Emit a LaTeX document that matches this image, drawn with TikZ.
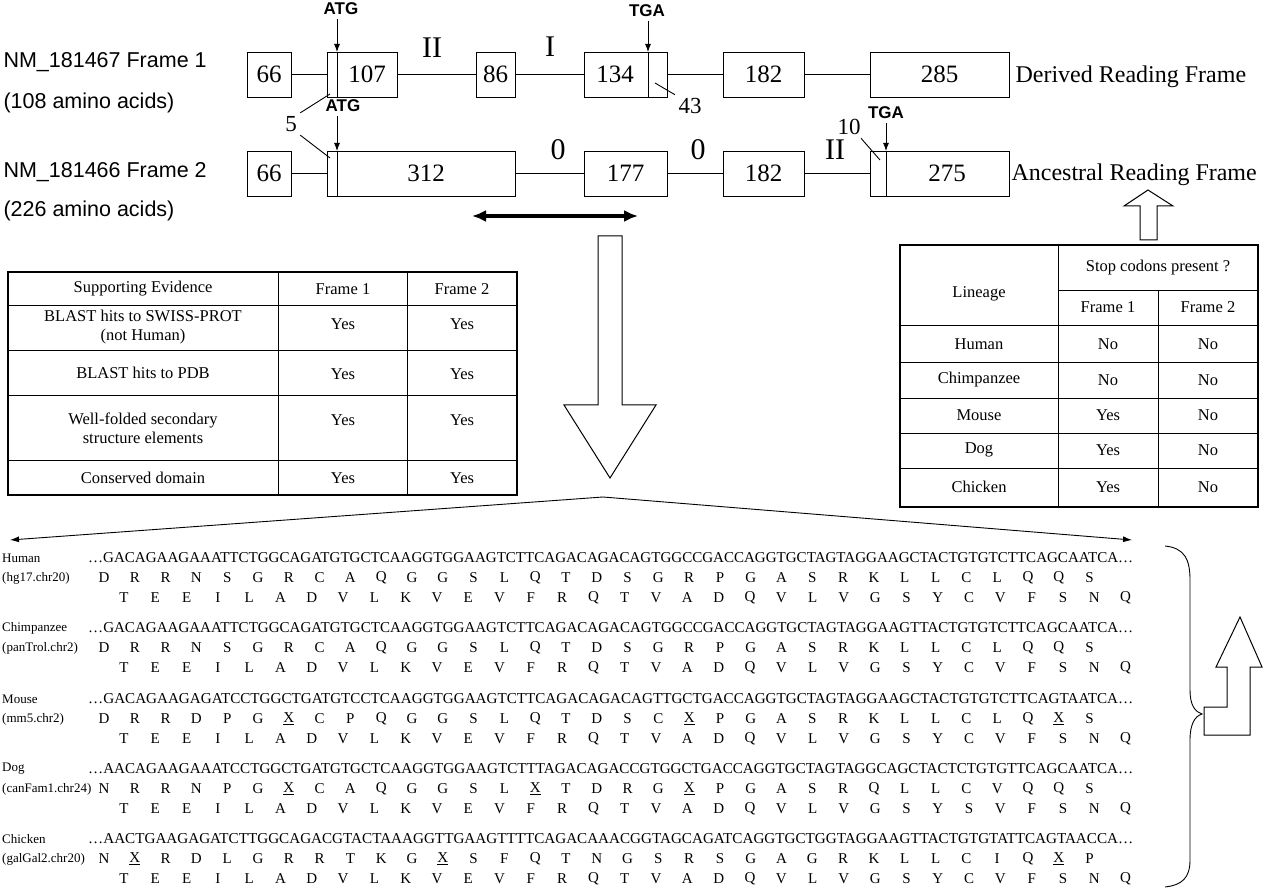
\documentclass[tikz,border=0pt]{standalone}
\usepackage{fontspec}
\setmainfont{Liberation Serif}
\newfontfamily\lsans{Liberation Sans}
\usetikzlibrary{arrows.meta}
\begin{document}
\begin{tikzpicture}[x=1pt,y=-1pt,
  ex/.style={draw,line width=0.9pt,inner sep=0pt,font=\fontsize{25}{25}\selectfont},
  ln/.style={line width=0.9pt},
  codon/.style={font=\bfseries\lsans\fontsize{17}{17}\selectfont},
  rom/.style={font=\fontsize{30}{30}\selectfont},
  sm/.style={font=\fontsize{23}{23}\selectfont},
  lab/.style={font=\lsans\fontsize{21.5}{21.5}\selectfont,anchor=west},
  tt/.style={font=\fontsize{16.5}{19}\selectfont,align=center},
  seq/.style={anchor=west,inner sep=0pt,font=\fontsize{15}{15}\selectfont},
  aa/.style={inner sep=0pt,font=\fontsize{15}{15}\selectfont},
  spl/.style={anchor=west,font=\fontsize{13}{13}\selectfont,inner sep=0pt},
  hollow/.style={draw,line width=1pt,fill=white},
  thk/.style={line width=2.4pt}]
\useasboundingbox (0,0) rectangle (1280,890);
% ---------- gene structures ----------
\node[lab] (l1) at (0,62) {NM\_181467 Frame 1};
\node[lab] (l1b) at (0,103) {(108 amino acids)};
\node[lab] (l2) at (0,172) {NM\_181466 Frame 2};
\node[lab] (l2b) at (0,211) {(226 amino acids)};
% row 1
\node[ex,minimum width=44pt,minimum height=45pt] (a66) at (269,74.5) {66};
\node[ex,minimum width=70pt,minimum height=45pt] (a107) at (362,74.5) {};
\node[font=\fontsize{25}{25}\selectfont] at (367,74.5) {107};
\draw[ln] (337,52) -- (337,97);
\node[ex,minimum width=39pt,minimum height=45pt] (a86) at (495.5,74.5) {86};
\node[ex,minimum width=83pt,minimum height=45pt] (a134) at (625.5,74.5) {};
\node[font=\fontsize{25}{25}\selectfont] at (615,74.5) {134};
\draw[ln] (648,52) -- (648,97);
\node[ex,minimum width=81pt,minimum height=45pt] (a182) at (763.5,74.5) {182};
\node[ex,minimum width=139pt,minimum height=45pt] (a285) at (939.5,74.5) {285};
\draw[ln] (a66) -- (a107); \draw[ln] (a107) -- (a86); \draw[ln] (a86) -- (a134);
\draw[ln] (a134) -- (a182); \draw[ln] (a182) -- (a285);
\node[font=\fontsize{24}{24}\selectfont,anchor=west] (d) at (1012,77) {Derived Reading Frame};
\node[rom] at (432,48) {II};
\node[rom] at (550,47) {I};
\node[codon] (atg1) at (341,9) {ATG};
\draw[ln,-{Latex[length=8pt,width=6pt]}] (atg1.south -| 337,0) -- (337,52);
\node[codon] (tga1) at (647,11) {TGA};
\draw[ln,-{Latex[length=8pt,width=6pt]}] (tga1.south -| 648,0) -- (648,52);
\node[sm] (n43) at (690,106) {43};
\draw[ln] (655,83) -- (n43.north west);
% row 2
\node[ex,minimum width=44pt,minimum height=45pt] (b66) at (269,173.5) {66};
\node[ex,minimum width=188pt,minimum height=45pt] (b312) at (421,173.5) {};
\node[font=\fontsize{25}{25}\selectfont] at (426,173.5) {312};
\draw[ln] (337,151) -- (337,196);
\node[ex,minimum width=83pt,minimum height=45pt] (b177) at (625.5,173.5) {177};
\node[ex,minimum width=81pt,minimum height=45pt] (b182) at (763.5,173.5) {182};
\node[ex,minimum width=139pt,minimum height=45pt] (b275) at (939.5,173.5) {};
\node[font=\fontsize{25}{25}\selectfont] at (947,173.5) {275};
\draw[ln] (886,151) -- (886,196);
\draw[ln] (b66) -- (b312); \draw[ln] (b312) -- (b177); \draw[ln] (b177) -- (b182); \draw[ln] (b182) -- (b275);
\node[font=\fontsize{24}{24}\selectfont,anchor=west] (an) at (1008,175) {Ancestral Reading Frame};
\node[rom] at (558,150) {0};
\node[rom] at (698,150) {0};
\node[rom] at (835,150) {II};
\node[codon] (atg2) at (343,106) {ATG};
\draw[ln,-{Latex[length=8pt,width=6pt]}] (atg2.south -| 337,0) -- (337,151);
\node[codon] (tga2) at (886,113) {TGA};
\draw[ln,-{Latex[length=8pt,width=6pt]}] (tga2.south -| 886,0) -- (886,151);
\node[sm] (n5) at (291,124) {5};
\draw[ln] (n5.north east) -- (330,94);
\draw[ln] (n5.south east) -- (330,158);
\node[sm] (n10) at (849,127) {10};
\draw[ln] (n10.south east) ++(-3,0) -- (880,160);
% double arrow
\coordinate (da1) at (472,216); \coordinate (da2) at (638,216);
\draw[line width=3.5pt,{Latex[length=14pt,width=12pt]}-{Latex[length=14pt,width=12pt]}] (da1) -- (da2);
% hollow down arrow
\draw[hollow] (598,236) -- (622,236) -- (622,405) -- (656,405) -- (610,478) -- (564,405) -- (598,405) -- cycle;
% hollow up arrow
\draw[hollow] (1140,240) -- (1140,206) -- (1124,206) -- (1148,190) -- (1173,206) -- (1157,206) -- (1157,240) -- cycle;
% fan arrows
\coordinate (fan) at (603,497);
\coordinate (fl) at (10,540); \coordinate (fr) at (1132,540);
\draw[ln,-{Latex[length=9pt,width=6pt]}] (fan) -- (fl);
\draw[ln,-{Latex[length=9pt,width=6pt]}] (fan) -- (fr);
% ---------- left table ----------
\draw[ln] (278,272) -- (278,495); \draw[ln] (407,272) -- (407,495);
\foreach \yy in {305,350,395,460} \draw[ln] (8,\yy) -- (517,\yy);
\draw[thk] (8,272) rectangle (517,495);
\node[tt] at (143,289) {Supporting Evidence};
\node[tt] at (343,289) {Frame 1};
\node[tt] at (462,289) {Frame 2};
\node[tt] at (143,327) {BLAST hits to SWISS-PROT\\(not Human)};
\node[tt] at (343,324) {Yes}; \node[tt] at (462,324) {Yes};
\node[tt] at (143,373) {BLAST hits to PDB};
\node[tt] at (343,374) {Yes}; \node[tt] at (462,374) {Yes};
\node[tt] at (143,428) {Well-folded secondary\\structure elements};
\node[tt] at (343,420) {Yes}; \node[tt] at (462,420) {Yes};
\node[tt] at (143,478) {Conserved domain};
\node[tt] at (343,478) {Yes}; \node[tt] at (462,478) {Yes};
% ---------- right table ----------
\draw[ln] (1058,245) -- (1058,507);
\draw[ln] (1058,290) -- (1258,290);
\draw[ln] (1158,290) -- (1158,507);
\foreach \yy in {325,362,398,433,468} \draw[ln] (900,\yy) -- (1258,\yy);
\draw[thk] (900,245) rectangle (1258,507);
\node[tt] at (979,294) {Lineage};
\node[tt] at (1158,268) {Stop codons present ?};
\node[tt] at (1108,307) {Frame 1}; \node[tt] at (1208,307) {Frame 2};
\foreach \nm/\fa/\yy in {Human/No/344,Chimpanzee/No/380,Mouse/Yes/415,Dog/Yes/450,Chicken/Yes/487}{
  \node[tt] at (979,\yy) {\nm};
  \node[tt] at (1108,\yy) {\fa};
  \node[tt] at (1208,\yy) {No};
}
% ---------- sequences ----------
\newcommand{\seqrow}[6]{%
  \node[spl] at (2,#1) {#2};
  \node[spl] at (2,#1+20) {#3};
  \node[seq] at (88,#1) {\resizebox{1045pt}{!}{#4}};
  \foreach \a [count=\i from 0] in {#5} \node[aa] at (104+30.8*\i,#1+20) {\a};
  \foreach \a [count=\i from 0] in {#6} \node[aa] at (124+31.3*\i,#1+40) {\a};
}
\seqrow{558}{Human}{(hg17.chr20)}{…GACAGAAGAAATTCTGGCAGATGTGCTCAAGGTGGAAGTCTTCAGACAGACAGTGGCCGACCAGGTGCTAGTAGGAAGCTACTGTGTCTTCAGCAATCA…}
{D,R,R,N,S,G,R,C,A,Q,G,G,S,L,Q,T,D,S,G,R,P,G,A,S,R,K,L,L,C,L,Q,Q,S}
{T,E,E,I,L,A,D,V,L,K,V,E,V,F,R,Q,T,V,A,D,Q,V,L,V,G,S,Y,C,V,F,S,N,Q}
\seqrow{628}{Chimpanzee}{(panTrol.chr2)}{…GACAGAAGAAATTCTGGCAGATGTGCTCAAGGTGGAAGTCTTCAGACAGACAGTGGCCGACCAGGTGCTAGTAGGAAGTTACTGTGTCTTCAGCAATCA…}
{D,R,R,N,S,G,R,C,A,Q,G,G,S,L,Q,T,D,S,G,R,P,G,A,S,R,K,L,L,C,L,Q,Q,S}
{T,E,E,I,L,A,D,V,L,K,V,E,V,F,R,Q,T,V,A,D,Q,V,L,V,G,S,Y,C,V,F,S,N,Q}
\seqrow{699}{Mouse}{(mm5.chr2)}{…GACAGAAGAGATCCTGGCTGATGTCCTCAAGGTGGAAGTCTTCAGACAGACAGTTGCTGACCAGGTGCTAGTAGGAAGCTACTGTGTCTTCAGTAATCA…}
{D,R,R,D,P,G,\underline{X},C,P,Q,G,G,S,L,Q,T,D,S,C,\underline{X},P,G,A,S,R,K,L,L,C,L,Q,\underline{X},S}
{T,E,E,I,L,A,D,V,L,K,V,E,V,F,R,Q,T,V,A,D,Q,V,L,V,G,S,Y,C,V,F,S,N,Q}
\seqrow{769}{Dog}{(canFam1.chr24)}{…AACAGAAGAAATCCTGGCTGATGTGCTCAAGGTGGAAGTCTTTAGACAGACCGTGGCTGACCAGGTGCTAGTAGGCAGCTACTCTGTGTTCAGCAATCA…}
{N,R,R,N,P,G,\underline{X},C,A,Q,G,G,S,L,\underline{X},T,D,R,G,\underline{X},P,G,A,S,R,Q,L,L,C,V,Q,Q,S}
{T,E,E,I,L,A,D,V,L,K,V,E,V,F,R,Q,T,V,A,D,Q,V,L,V,G,S,Y,S,V,F,S,N,Q}
\seqrow{839}{Chicken}{(galGal2.chr20)}{…AACTGAAGAGATCTTGGCAGACGTACTAAAGGTTGAAGTTTTCAGACAAACGGTAGCAGATCAGGTGCTGGTAGGAAGTTACTGTGTATTCAGTAACCA…}
{N,\underline{X},R,D,L,G,R,R,T,K,G,\underline{X},S,F,Q,T,N,G,S,R,S,G,A,G,R,K,L,L,C,I,Q,\underline{X},P}
{T,E,E,I,L,A,D,V,L,K,V,E,V,F,R,Q,T,V,A,D,Q,V,L,V,G,S,Y,C,V,F,S,N,Q}
% brace
\draw[ln] (1165,546) .. controls (1185,548) and (1190,560) .. (1190,580) -- (1190,690)
  .. controls (1190,705) and (1195,712) .. (1202,714)
  .. controls (1195,716) and (1190,724) .. (1190,740) -- (1190,860)
  .. controls (1190,878) and (1182,885) .. (1165,887);
% L-shaped hollow arrow
\draw[hollow] (1204,707) -- (1227,707) -- (1227,667) -- (1216,667) -- (1240,617) -- (1262,667) -- (1250,667) -- (1250,735) -- (1204,735) -- cycle;
\end{tikzpicture}
\end{document}
